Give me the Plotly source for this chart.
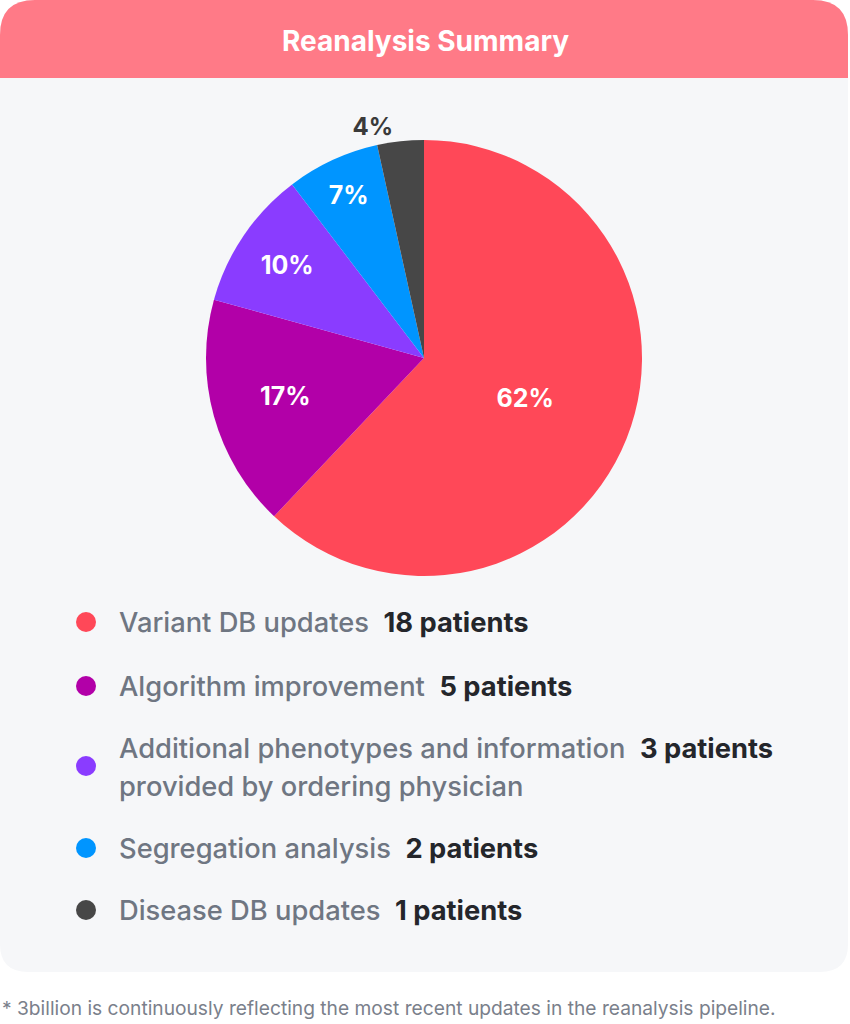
import plotly.graph_objects as go

W, H = 850, 1024

# data
categories = ["Variant DB updates", "Algorithm improvement",
              "Additional phenotypes and information provided by ordering physician",
              "Segregation analysis", "Disease DB updates"]
patients = [18, 5, 3, 2, 1]
pct_labels = ["62%", "17%", "10%", "7%", "4%"]
colors = ["#FF4858", "#B200A8", "#8A3CFF", "#0095FF", "#474747"]

FONT = "Inter"
GRAY = "#6F7682"
DARK = "#24262B"


def px(x):
    return x / W


def py(y):
    return 1 - y / H


def path(points):
    # points given in pixel coords, converted to paper coords
    out = []
    for cmd, pts in points:
        coords = " ".join(f"{px(a):.5f},{py(b):.5f}" for a, b in pts)
        out.append(f"{cmd} {coords}")
    return " ".join(out) + " Z"


card = path([("M", [(0, 35)]), ("Q", [(0, 0), (35, 0)]), ("L", [(813, 0)]),
              ("Q", [(848, 0), (848, 35)]), ("L", [(848, 944)]),
              ("Q", [(848, 972), (820, 972)]), ("L", [(28, 972)]),
              ("Q", [(0, 972), (0, 944)])])
header = path([("M", [(0, 78)]), ("L", [(0, 35)]), ("Q", [(0, 0), (35, 0)]),
               ("L", [(813, 0)]), ("Q", [(848, 0), (848, 35)]), ("L", [(848, 78)])])

fig = go.Figure()

fig.add_trace(go.Pie(
    labels=categories, values=patients, text=pct_labels,
    textinfo="text", sort=False, direction="clockwise", rotation=0,
    marker=dict(colors=colors, line=dict(width=0)),
    textposition=["inside", "inside", "inside", "inside", "outside"],
    insidetextorientation="horizontal",
    insidetextfont=dict(family=FONT, size=25, color="white", weight=700),
    outsidetextfont=dict(family=FONT, size=24, color="#3A3A3A", weight=700),
    domain=dict(x=[px(206), px(642)], y=[py(576), py(140)]),
    showlegend=False, hoverinfo="label+value",
))

shapes = [
    dict(type="path", path=card, xref="paper", yref="paper",
         fillcolor="#F6F7F9", line=dict(width=0), layer="below"),
    dict(type="path", path=header, xref="paper", yref="paper",
         fillcolor="#FF7A87", line=dict(width=0), layer="below"),
]

annotations = [
    dict(text="<b>Reanalysis Summary</b>", x=0.5, y=py(41), xref="paper", yref="paper",
         xanchor="center", yanchor="middle",
         showarrow=False, font=dict(family=FONT, size=28, color="white")),
    dict(text="* 3billion is continuously reflecting the most recent updates in the reanalysis pipeline.",
         x=px(0), y=py(1008), xref="paper", yref="paper", xanchor="left", yanchor="middle",
         showarrow=False, font=dict(family=FONT, size=19.2, color="#7A808B")),
]

# custom legend
marker_y = [622, 686, 766, 848, 910]
label_lines = [["Variant DB updates"], ["Algorithm improvement"],
               ["Additional phenotypes and information", "provided by ordering physician"],
               ["Segregation analysis"], ["Disease DB updates"]]
line_y = [[622], [686], [748, 786], [848], [910]]

for i, c in enumerate(colors):
    r = 10
    shapes.append(dict(type="circle", xref="paper", yref="paper",
                       x0=px(86 - r), x1=px(86 + r), y0=py(marker_y[i] + r), y1=py(marker_y[i] - r),
                       fillcolor=c, line=dict(width=0)))
    for j, (ln, yy) in enumerate(zip(label_lines[i], line_y[i])):
        txt = ln
        if j == 0:
            txt += f"&nbsp;&nbsp;<b><span style='color:{DARK}'>{patients[i]} patients</span></b>"
        annotations.append(dict(text=txt, x=px(117), y=py(yy), xref="paper", yref="paper",
                                xanchor="left", yanchor="middle", showarrow=False,
                                font=dict(family=FONT, size=27.3, color=GRAY, weight=500)))

fig.update_layout(
    width=W, height=H, margin=dict(l=0, r=0, t=0, b=0),
    paper_bgcolor="white", plot_bgcolor="white",
    shapes=shapes, annotations=annotations,
    font=dict(family=FONT),
)

fig.write_html("out.html", config={"displayModeBar": False},
               post_script="document.body.style.margin='0';")
